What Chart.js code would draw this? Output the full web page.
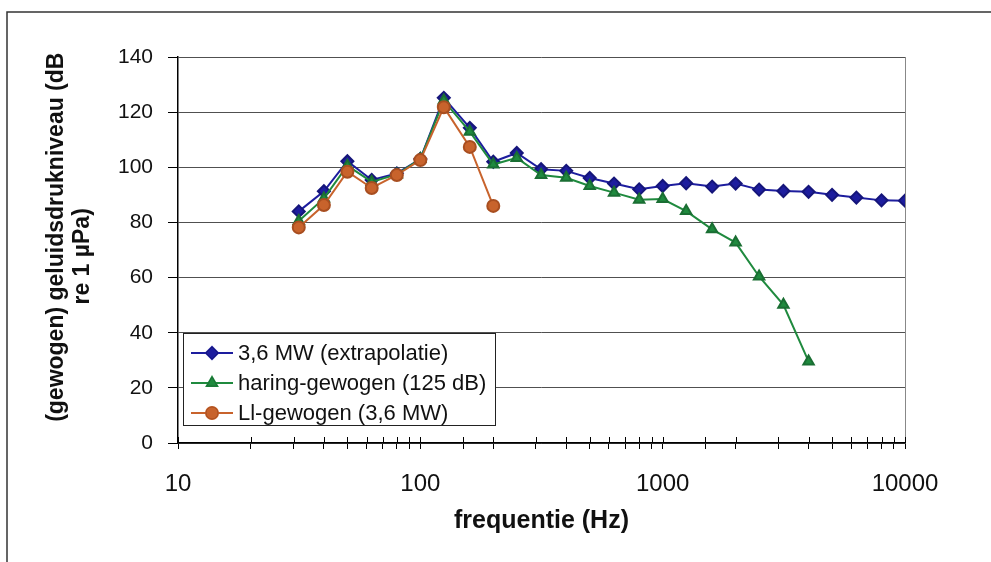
<!DOCTYPE html>
<html>
<head>
<meta charset="utf-8">
<script src="https://cdn.jsdelivr.net/npm/chart.js@4"></script>
<style>
  html, body { margin: 0; padding: 0; background: #fff; }
  #wrap { width: 991px; height: 562px; position: relative; }
</style>
</head>
<body>
<div id="wrap"><canvas id="geluid-chart"></canvas></div>
<script>
// third-octave band centre frequencies (Hz)
const freqs = [31.5, 40, 50, 63, 80, 100, 125, 160, 200, 250, 315, 400, 500, 630,
  800, 1000, 1250, 1600, 2000, 2500, 3150, 4000, 5000, 6300, 8000, 10000];

const extrapolatie = [84, 91.3, 102.2, 95.4, 97.8, 103, 125.2, 114.3, 102, 105.2, 99.3, 98.7,
  96.1, 94.1, 92, 93.2, 94.2, 93, 94.1, 91.9, 91.4, 91.1, 90, 89, 88, 87.9];
const haringGewogen = [80.5, 88.7, 100.6, 94.7, 97.4, 103, 124.2, 112.9, 101, 103.4, 97.2, 96.2,
  93.2, 90.8, 88.2, 88.5, 84.1, 77.5, 72.7, 60.4, 50.1, 29.6];
const liGewogen = [78.2, 86.3, 98.4, 92.5, 97.2, 102.6, 121.8, 107.4, 86];

const seriesNames = ['3,6 MW (extrapolatie)', 'haring-gewogen (125 dB)', 'Ll-gewogen (3,6 MW)'];
const xTickLabels = [10, 100, 1000, 10000];

const toPoints = (vals) => vals.map((v, i) => ({ x: freqs[i], y: v }));

const FONT = 'Liberation Sans, Arial, sans-serif';

// outer frame, right border of plot, inner tick halves and legend box
const decorations = {
  id: 'decorations',
  beforeDraw(chart) {
    const ctx = chart.ctx;
    ctx.save();
    ctx.fillStyle = '#fff';
    ctx.fillRect(0, 0, chart.width, chart.height);
    ctx.restore();
  },
  afterDraw(chart) {
    const ctx = chart.ctx;
    const area = chart.chartArea;
    const xs = chart.scales.x;
    ctx.save();
    // frame
    ctx.strokeStyle = '#333';
    ctx.lineWidth = 1.5;
    ctx.beginPath();
    ctx.moveTo(7, chart.height);
    ctx.lineTo(7, 12);
    ctx.lineTo(chart.width, 12);
    ctx.stroke();
    // right plot border
    ctx.strokeStyle = '#888';
    ctx.lineWidth = 1;
    ctx.beginPath();
    ctx.moveTo(area.right + 0.5, area.top);
    ctx.lineTo(area.right + 0.5, area.bottom);
    ctx.stroke();
    // x ticks cross the axis
    ctx.strokeStyle = '#000';
    ctx.beginPath();
    xs.ticks.forEach((t) => {
      const px = Math.round(xs.getPixelForValue(t.value)) + 0.5;
      ctx.moveTo(px, area.bottom);
      ctx.lineTo(px, area.bottom - 6);
    });
    ctx.stroke();

    // legend
    const lx = 183, ly = 333, lw = 312, lh = 92;
    ctx.fillStyle = '#fff';
    ctx.fillRect(lx, ly, lw, lh);
    ctx.strokeStyle = '#222';
    ctx.lineWidth = 1;
    ctx.strokeRect(lx + 0.5, ly + 0.5, lw, lh);
    ctx.font = '22px ' + FONT;
    ctx.textBaseline = 'middle';
    [0, 1, 2].forEach((di, row) => {
      const ds = chart.data.datasets.find((d) => d.key === di);
      const y = ly + 20 + row * 30;
      ctx.strokeStyle = ds.borderColor;
      ctx.lineWidth = 2;
      ctx.beginPath();
      ctx.moveTo(lx + 8, y);
      ctx.lineTo(lx + 50, y);
      ctx.stroke();
      Chart.helpers.drawPoint(ctx, {
        pointStyle: ds.pointStyle,
        radius: ds.pointRadius,
        rotation: 0,
        borderWidth: 1,
      }, lx + 29, y);
      ctx.fillStyle = ds.pointBackgroundColor;
      ctx.strokeStyle = ds.pointBorderColor;
      ctx.lineWidth = 1;
      ctx.fill();
      ctx.stroke();
      ctx.fillStyle = '#111';
      ctx.fillText(seriesNames[di], lx + 55, y + 1);
    });
    ctx.restore();
  },
};

const blue = '#1d1d9e';
const green = '#1f8a3e';
const orange = '#c8632c';

const chart = new Chart(document.getElementById('geluid-chart'), {
  type: 'line',
  data: {
    datasets: [
      {
        key: 2,
        label: seriesNames[2],
        data: toPoints(liGewogen),
        borderColor: orange,
        backgroundColor: orange,
        pointBackgroundColor: orange,
        pointBorderColor: '#a84e20',
        pointStyle: 'circle',
        pointRadius: 6,
        borderWidth: 2,
        order: 0,
      },
      {
        key: 1,
        label: seriesNames[1],
        data: toPoints(haringGewogen),
        borderColor: green,
        backgroundColor: green,
        pointBackgroundColor: green,
        pointBorderColor: '#1a6e33',
        pointStyle: 'triangle',
        pointRadius: 6,
        borderWidth: 2,
        order: 1,
      },
      {
        key: 0,
        label: seriesNames[0],
        data: toPoints(extrapolatie),
        borderColor: blue,
        backgroundColor: blue,
        pointBackgroundColor: blue,
        pointBorderColor: '#15157a',
        pointStyle: 'rectRot',
        pointRadius: 6,
        borderWidth: 2,
        order: 2,
      },
    ],
  },
  options: {
    responsive: true,
    maintainAspectRatio: false,
    animation: false,
    layout: { padding: { left: 40, right: 86, top: 57, bottom: 0 } },
    plugins: {
      legend: { display: false },
      tooltip: { enabled: false },
    },
    elements: { line: { tension: 0 } },
    scales: {
      x: {
        type: 'logarithmic',
        min: 10,
        max: 10000,
        afterFit(scale) { scale.height = 119; },
        grid: {
          drawOnChartArea: false,
          color: '#000',
          tickLength: 6,
        },
        border: { color: '#000', width: 1.5 },
        ticks: {
          autoSkip: false,
          maxRotation: 0,
          padding: 21,
          color: '#111',
          font: { family: FONT, size: 24 },
          callback(value) {
            return xTickLabels.includes(value) ? String(value) : '';
          },
        },
        title: {
          display: true,
          text: 'frequentie (Hz)',
          color: '#111',
          font: { family: FONT, size: 25, weight: 'bold', lineHeight: '26px' },
          padding: { top: 0, bottom: 28 },
        },
      },
      y: {
        min: 0,
        max: 140,
        afterFit(scale) { scale.width = 138; },
        grid: {
          color: '#505050',
          tickColor: '#000',
          tickLength: 10,
        },
        border: { color: '#000', width: 1.5 },
        ticks: {
          stepSize: 20,
          padding: 15,
          color: '#111',
          font: { family: FONT, size: 21 },
        },
        title: {
          display: true,
          // spaces nudge the two centred lines like the original wrap
          text: ['    (gewogen) geluidsdrukniveau (dB', 're 1 \u00b5Pa)  '],
          color: '#111',
          font: { family: FONT, size: 23, weight: 'bold', lineHeight: '26px' },
          padding: { top: 4, bottom: 0 },
        },
      },
    },
  },
  plugins: [decorations],
});
</script>
</body>
</html>
